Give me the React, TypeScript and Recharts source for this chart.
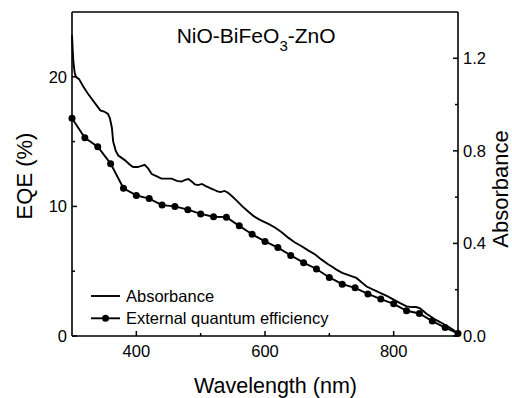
import { ComposedChart, Line, XAxis, YAxis, ReferenceLine } from "recharts";

// EQE and absorbance spectra of the NiO-BiFeO3-ZnO device.

const FONT = '"Liberation Sans", Arial, sans-serif';

const eqeWavelength = [
  300, 320, 340, 360, 380, 400, 420, 440, 460, 480, 500, 520, 540, 560, 580, 600,
  620, 640, 660, 680, 700, 720, 740, 760, 780, 800, 820, 840, 860, 880, 900,
];
const eqeValue = [
  16.8, 15.3, 14.6, 13.3, 11.4, 10.85, 10.6, 10.1, 10.0, 9.75, 9.42, 9.2, 9.17, 8.5, 7.85, 7.3,
  6.82, 6.22, 5.66, 5.17, 4.52, 4.0, 3.72, 3.25, 2.85, 2.48, 1.95, 1.74, 1.15, 0.65, 0.2,
];

const absWavelength = [
  300, 301, 302, 304, 306, 311, 317, 324, 332, 340, 344, 350, 356, 359, 362, 364,
  368, 372, 382, 390, 395, 402, 408, 413, 418, 424, 432, 439, 447, 455, 463, 470,
  476, 481, 487, 491, 496, 502, 508, 514, 520, 526, 531, 537, 542, 548, 556, 564,
  573, 582, 590, 597, 606, 616, 626, 636, 646, 657, 667, 678, 688, 698, 705, 711,
  720, 732, 742, 750, 758, 768, 779, 790, 800, 810, 820, 828, 835, 841, 846, 851,
  857, 862, 870, 877, 885, 893, 900,
];
const absValue = [
  1.3, 1.24, 1.19, 1.14, 1.12, 1.11, 1.08, 1.05, 1.02, 0.99, 0.975, 0.97, 0.96, 0.94, 0.9, 0.84,
  0.8, 0.78, 0.76, 0.74, 0.73, 0.73, 0.735, 0.74, 0.725, 0.7, 0.69, 0.68, 0.68, 0.68, 0.67, 0.667,
  0.675, 0.678, 0.665, 0.655, 0.652, 0.657, 0.648, 0.64, 0.633, 0.625, 0.622, 0.627, 0.62, 0.606, 0.585, 0.562,
  0.54, 0.519, 0.505, 0.495, 0.483, 0.468, 0.448, 0.425, 0.405, 0.388, 0.37, 0.352, 0.33, 0.31, 0.298, 0.287,
  0.273, 0.261, 0.251, 0.232, 0.214, 0.2, 0.186, 0.172, 0.157, 0.142, 0.128, 0.125, 0.125, 0.12, 0.108, 0.096,
  0.085, 0.075, 0.063, 0.053, 0.04, 0.026, 0.009,
];

const xTicks = [400, 500, 600, 700, 800];
const xLabeled = [400, 600, 800];
const eqeTicks = [0, 5, 10, 15, 20];
const eqeLabeled = [0, 10, 20];
const absTicks = [0, 0.2, 0.4, 0.6, 0.8, 1.0, 1.2];
const absLabeled = [0, 0.4, 0.8, 1.2];

const seriesNames = ["Absorbance", "External quantum efficiency"];

const eqeData = eqeWavelength.map((wl, i) => ({ wl, eqe: eqeValue[i] }));
const absData = absWavelength.map((wl, i) => ({ wl, abs: absValue[i] }));

const isMajor = (list: number[], v: number) => list.some((m) => Math.abs(m - v) < 1e-6);

const tickText = { fontFamily: FONT, fontSize: 16.5, fill: "#000" };

function BottomTick({ x, y, payload }: any) {
  const major = isMajor(xLabeled, payload.value);
  return (
    <g>
      <line x1={x} x2={x} y1={y} y2={y - (major ? 5 : 3)} stroke="#000" strokeWidth={1.5} />
      {major && (
        <text x={x} y={y + 21} textAnchor="middle" {...tickText}>
          {payload.value}
        </text>
      )}
    </g>
  );
}

function LeftTick({ x, y, payload }: any) {
  const major = isMajor(eqeLabeled, payload.value);
  return (
    <g>
      <line x1={x} x2={x + (major ? 5 : 3)} y1={y} y2={y} stroke="#000" strokeWidth={1.5} />
      {major && (
        <text x={x - 5} y={y + 6} textAnchor="end" {...tickText}>
          {payload.value}
        </text>
      )}
    </g>
  );
}

function RightTick({ x, y, payload }: any) {
  const major = isMajor(absLabeled, payload.value);
  return (
    <g>
      <line x1={x} x2={x - (major ? 5 : 3)} y1={y} y2={y} stroke="#000" strokeWidth={1.5} />
      {major && (
        <text x={x + 5} y={y + 6} textAnchor="start" {...tickText}>
          {Number(payload.value).toFixed(1)}
        </text>
      )}
    </g>
  );
}

const axisLine = { stroke: "#000", strokeWidth: 1.6 };

export default function App() {
  return (
    <div style={{ position: "absolute", left: 0, top: 0, width: 512, height: 398, background: "#fff" }}>
      <ComposedChart width={512} height={398} margin={{ top: 12, right: 0, bottom: 0, left: 0 }}>
        <XAxis
          dataKey="wl"
          type="number"
          domain={[300, 900]}
          ticks={xTicks}
          interval={0}
          height={62}
          tickSize={0}
          tickMargin={0}
          tickLine={false}
          axisLine={axisLine}
          tick={<BottomTick />}
          allowDuplicatedCategory={false}
        />
        <YAxis
          yAxisId="eqe"
          orientation="left"
          domain={[0, 25]}
          ticks={eqeTicks}
          interval={0}
          width={72}
          tickSize={0}
          tickMargin={0}
          tickLine={false}
          axisLine={axisLine}
          tick={<LeftTick />}
        />
        <YAxis
          yAxisId="abs"
          orientation="right"
          domain={[0, 1.4]}
          ticks={absTicks}
          interval={0}
          width={54}
          tickSize={0}
          tickMargin={0}
          tickLine={false}
          axisLine={axisLine}
          tick={<RightTick />}
        />
        <ReferenceLine yAxisId="eqe" y={25} stroke="#000" strokeWidth={1.6} />
        <Line
          yAxisId="abs"
          data={absData}
          dataKey="abs"
          name={seriesNames[0]}
          type="linear"
          stroke="#000"
          strokeWidth={1.9}
          dot={false}
          isAnimationActive={false}
        />
        <Line
          yAxisId="eqe"
          data={eqeData}
          dataKey="eqe"
          name={seriesNames[1]}
          type="linear"
          stroke="#000"
          strokeWidth={1.9}
          dot={{ r: 3.5, fill: "#000", stroke: "#000", strokeWidth: 0 }}
          isAnimationActive={false}
        />
      </ComposedChart>
      <svg
        width={512}
        height={398}
        style={{ position: "absolute", left: 0, top: 0, pointerEvents: "none" }}
      >
        <g fontFamily={FONT} fill="#000">
          <text x={176.7} y={42.5} fontSize={21}>
            NiO-BiFeO
            <tspan fontSize={15} dy={8}>3</tspan>
            <tspan dy={-8}>-ZnO</tspan>
          </text>
          <text x={275.5} y={393} fontSize={21.5} textAnchor="middle">
            Wavelength (nm)
          </text>
          <text x={32} y={176} fontSize={22} textAnchor="middle" transform="rotate(-90 32 176)">
            EQE (%)
          </text>
          <text x={508} y={189} fontSize={22} textAnchor="middle" transform="rotate(-90 508 189)">
            Absorbance
          </text>
          {/* legend */}
          <line x1={91} x2={120} y1={296} y2={296} stroke="#000" strokeWidth={1.9} />
          <text x={126} y={301.5} fontSize={16.5}>{seriesNames[0]}</text>
          <line x1={91} x2={120} y1={318.3} y2={318.3} stroke="#000" strokeWidth={1.9} />
          <circle cx={105.5} cy={318.3} r={3.5} fill="#000" />
          <text x={126} y={323.5} fontSize={16.5}>{seriesNames[1]}</text>
        </g>
      </svg>
    </div>
  );
}
